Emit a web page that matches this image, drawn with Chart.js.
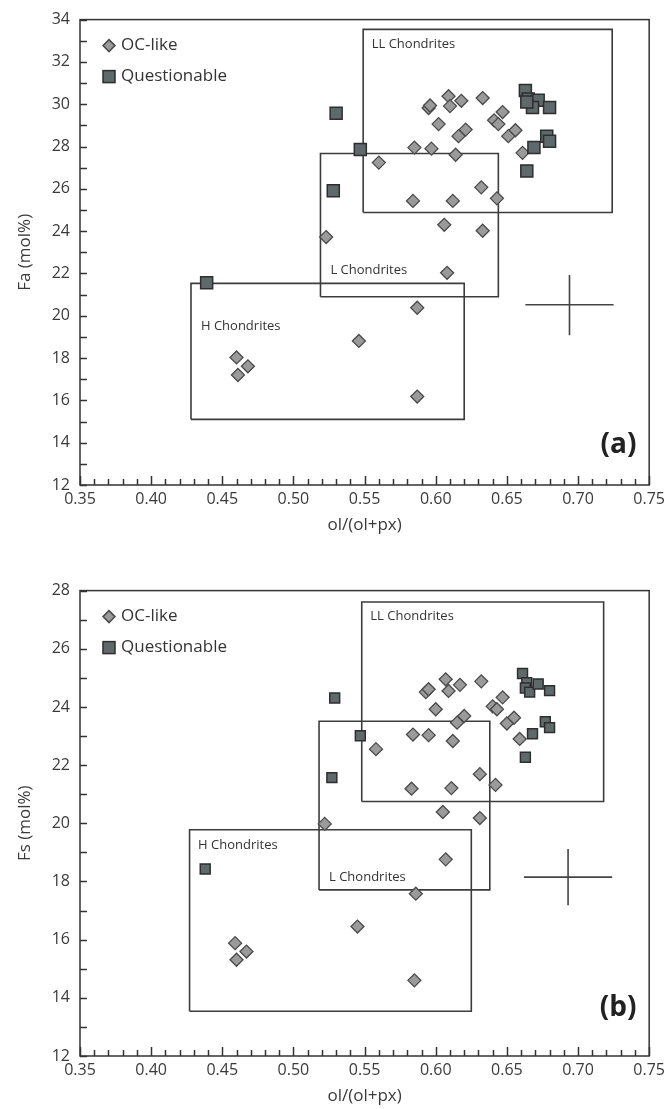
<!DOCTYPE html>
<html>
<head>
<meta charset="utf-8">
<script src="https://cdn.jsdelivr.net/npm/chart.js@4.4.0/dist/chart.umd.min.js"></script>
<style>
  html, body { margin: 0; padding: 0; background: #fff; }
  .panel { position: absolute; left: 0; width: 670px; height: 538px; }
  #panelA { top: 0; }
  #panelB { top: 571px; }
</style>
</head>
<body>
<div class="panel" id="panelA"><canvas id="chartA"></canvas></div>
<div class="panel" id="panelB"><canvas id="chartB"></canvas></div>
<script>
// ---- data: olivine Fa (panel a) ----
const ocFaX = [0.595, 0.596, 0.609, 0.610, 0.618, 0.633, 0.602, 0.621, 0.616, 0.641, 0.647, 0.644, 0.656, 0.651, 0.661, 0.585, 0.597, 0.614, 0.560, 0.632, 0.643, 0.584, 0.612, 0.523, 0.606, 0.633, 0.608, 0.587, 0.546, 0.460, 0.468, 0.461, 0.587];
const ocFaY = [29.82, 29.94, 30.38, 29.91, 30.16, 30.29, 29.06, 28.80, 28.49, 29.24, 29.63, 29.06, 28.77, 28.49, 27.70, 27.95, 27.90, 27.61, 27.24, 26.07, 25.55, 25.43, 25.43, 23.72, 24.30, 24.02, 22.03, 20.38, 18.81, 18.03, 17.61, 17.20, 16.18];
const qFaX = [0.530, 0.547, 0.528, 0.663, 0.665, 0.672, 0.668, 0.664, 0.680, 0.678, 0.680, 0.669, 0.664, 0.439];
const qFaY = [29.57, 27.86, 25.91, 30.65, 30.25, 30.19, 29.85, 30.10, 29.85, 28.49, 28.25, 27.95, 26.84, 21.56];

// ---- data: pyroxene Fs (panel b) ----
const ocFsX = [0.593, 0.595, 0.607, 0.609, 0.617, 0.632, 0.600, 0.620, 0.615, 0.640, 0.647, 0.643, 0.655, 0.650, 0.659, 0.584, 0.595, 0.612, 0.558, 0.631, 0.642, 0.583, 0.611, 0.605, 0.631, 0.522, 0.607, 0.586, 0.545, 0.459, 0.467, 0.460, 0.585];
const ocFsY = [24.51, 24.61, 24.95, 24.55, 24.76, 24.88, 23.92, 23.69, 23.46, 24.02, 24.33, 23.92, 23.63, 23.43, 22.90, 23.05, 23.03, 22.83, 22.55, 21.69, 21.32, 21.19, 21.21, 20.39, 20.18, 19.98, 18.76, 17.58, 16.45, 15.88, 15.59, 15.31, 14.60];
const qFsX = [0.529, 0.547, 0.527, 0.661, 0.664, 0.663, 0.666, 0.672, 0.680, 0.677, 0.680, 0.668, 0.663, 0.438];
const qFsY = [24.31, 23.01, 21.57, 25.15, 24.83, 24.65, 24.51, 24.79, 24.56, 23.49, 23.29, 23.08, 22.27, 18.43];

// chondrite group fields: H, L, LL
const groupNames = ['H Chondrites', 'L Chondrites', 'LL Chondrites'];
const faBoxXmin = [0.428, 0.519, 0.549];
const faBoxXmax = [0.620, 0.644, 0.724];
const faBoxYmin = [15.10, 20.90, 24.88];
const faBoxYmax = [21.53, 27.67, 33.54];
const faNameX = [0.435, 0.526, 0.555];
const faNameY = [19.52, 22.15, 32.84];

const fsBoxXmin = [0.427, 0.518, 0.548];
const fsBoxXmax = [0.625, 0.638, 0.718];
const fsBoxYmin = [13.54, 17.71, 20.75];
const fsBoxYmax = [19.78, 23.51, 27.61];
const fsNameX = [0.433, 0.525, 0.554];
const fsNameY = [19.25, 18.13, 27.13];

// typical error bars (low, centre, high)
const faErrX = [0.663, 0.694, 0.725];
const faErrY = [19.08, 20.52, 21.93];
const fsErrX = [0.662, 0.693, 0.724];
const fsErrY = [17.18, 18.15, 19.12];

// axis tick values (minor every 0.01 / 1, labelled every 0.05 / 2)
const xMin = 0.35, xMax = 0.75;
const xTickValues = [];
for (let k = 35; k <= 75; k++) xTickValues.push(k / 100);

Chart.defaults.font.family = '"Open Sans", "Noto Sans", sans-serif';
Chart.defaults.color = '#3a3a3a';

const diamondFill = '#9a9a9a', diamondLine = '#4a4a4a';
const squareFill = '#5e6969', squareLine = '#2e2e2e';

function toPoints(xs, ys) {
    return xs.map((x, i) => ({ x: x, y: ys[i] }));
}

function boxDataset(x0, x1, y0, y1) {
    return {
        type: 'line',
        data: [{ x: x0, y: y0 }, { x: x1, y: y0 }, { x: x1, y: y1 }, { x: x0, y: y1 }, { x: x0, y: y0 }],
        showLine: true, fill: false, pointRadius: 0, borderColor: '#3c3c3c', borderWidth: 1.6, tension: 0
    };
}

function lineDataset(pts) {
    return {
        type: 'line', data: pts, showLine: true, fill: false, pointRadius: 0,
        borderColor: '#444', borderWidth: 1.6, tension: 0
    };
}

// frame, inward ticks, group names, legend and panel letter
const decorPlugin = {
    id: 'decor',
    afterDraw(chart, args, opts) {
        const ctx = chart.ctx;
        const a = chart.chartArea;
        const x = chart.scales.x, y = chart.scales.y;
        ctx.save();

        // group names
        ctx.fillStyle = '#333';
        ctx.font = '13px "Open Sans", sans-serif';
        ctx.textAlign = 'left';
        ctx.textBaseline = 'middle';
        opts.names.forEach((n, i) => {
            ctx.fillText(n, x.getPixelForValue(opts.nameX[i]), y.getPixelForValue(opts.nameY[i]));
        });

        // frame
        ctx.strokeStyle = '#333';
        ctx.lineWidth = 1.5;
        ctx.strokeRect(a.left, a.top, a.right - a.left, a.bottom - a.top);

        // inward tick marks
        ctx.lineWidth = 1.5;
        ctx.strokeStyle = '#333';
        xTickValues.forEach(v => {
            const px = Math.round(x.getPixelForValue(v)) + 0.5;
            const major = Math.round(v * 100) % 5 === 0;
            ctx.beginPath();
            ctx.moveTo(px, a.bottom);
            ctx.lineTo(px, a.bottom - (major ? 9 : 6));
            ctx.stroke();
        });
        for (let v = y.min; v <= y.max; v++) {
            const py = Math.round(y.getPixelForValue(v)) + 0.5;
            ctx.beginPath();
            ctx.moveTo(a.left, py);
            ctx.lineTo(a.left + 7, py);
            ctx.stroke();
        }

        // legend
        const lx = a.left + 29;
        const ly1 = a.top + 26, ly2 = a.top + 57;
        ctx.lineWidth = 1.5;
        ctx.fillStyle = diamondFill;
        ctx.strokeStyle = diamondLine;
        ctx.beginPath();
        ctx.moveTo(lx - 6, ly1); ctx.lineTo(lx, ly1 - 6); ctx.lineTo(lx + 6, ly1); ctx.lineTo(lx, ly1 + 6);
        ctx.closePath();
        ctx.fill(); ctx.stroke();
        ctx.fillStyle = squareFill;
        ctx.strokeStyle = squareLine;
        ctx.fillRect(lx - 6, ly2 - 6, 12, 12);
        ctx.strokeRect(lx - 6, ly2 - 6, 12, 12);
        ctx.fillStyle = '#333';
        ctx.font = '17px "Open Sans", sans-serif';
        ctx.fillText('OC-like', lx + 12, ly1);
        ctx.fillText('Questionable', lx + 12, ly2);

        // panel letter
        ctx.font = 'bold 28px "Open Sans", sans-serif';
        ctx.textAlign = 'right';
        ctx.fillStyle = '#222';
        ctx.fillText(opts.panel, x.getPixelForValue(opts.panelX), y.getPixelForValue(opts.panelY));

        ctx.restore();
    }
};

function makeChart(id, cfg) {
    const datasets = [
        {
            label: 'Questionable', data: toPoints(cfg.qX, cfg.qY), pointStyle: 'rect',
            pointRadius: cfg.sqRadius, backgroundColor: squareFill, borderColor: squareLine, borderWidth: 1.5
        },
        {
            label: 'OC-like', data: toPoints(cfg.ocX, cfg.ocY), pointStyle: 'rectRot',
            pointRadius: 6.5, backgroundColor: diamondFill, borderColor: diamondLine, borderWidth: 1.3
        }
    ];
    for (let i = 0; i < 3; i++) {
        datasets.push(boxDataset(cfg.bx0[i], cfg.bx1[i], cfg.by0[i], cfg.by1[i]));
    }
    datasets.push(lineDataset([{ x: cfg.errX[0], y: cfg.errY[1] }, { x: cfg.errX[2], y: cfg.errY[1] }]));
    datasets.push(lineDataset([{ x: cfg.errX[1], y: cfg.errY[0] }, { x: cfg.errX[1], y: cfg.errY[2] }]));

    return new Chart(document.getElementById(id), {
        type: 'scatter',
        data: { datasets: datasets },
        plugins: [decorPlugin],
        options: {
            responsive: true,
            maintainAspectRatio: false,
            animation: false,
            events: [],
            layout: { padding: { left: 0, right: 20, top: 17, bottom: 0 } },
            plugins: {
                legend: { display: false },
                tooltip: { enabled: false },
                decor: {
                    names: groupNames, nameX: cfg.nameX, nameY: cfg.nameY,
                    panel: cfg.panel, panelX: 0.741, panelY: cfg.panelY
                }
            },
            scales: {
                x: {
                    type: 'linear', min: xMin, max: xMax,
                    grid: { display: false, drawTicks: false },
                    border: { display: false },
                    ticks: {
                        stepSize: 0.05, autoSkip: false, maxRotation: 0, padding: 5,
                        font: { size: 16 }, color: '#3a3a3a',
                        callback: v => v.toFixed(2)
                    },
                    title: { display: true, text: 'ol/(ol+px)', font: { size: 17 }, color: '#3a3a3a', padding: { top: 0, bottom: 3 } },
                    afterFit: s => { s.height = 53; }
                },
                y: {
                    type: 'linear', min: cfg.yMin, max: cfg.yMax,
                    grid: { display: false, drawTicks: false },
                    border: { display: false },
                    ticks: {
                        stepSize: 2, autoSkip: false, padding: 10,
                        font: { size: 16 }, color: '#3a3a3a'
                    },
                    title: { display: true, text: cfg.yTitle, font: { size: 17 }, color: '#3a3a3a', padding: { top: 15, bottom: 0 } },
                    afterFit: s => { s.width = 80; }
                }
            }
        }
    });
}

makeChart('chartA', {
    ocX: ocFaX, ocY: ocFaY, qX: qFaX, qY: qFaY, sqRadius: 8.5,
    bx0: faBoxXmin, bx1: faBoxXmax, by0: faBoxYmin, by1: faBoxYmax,
    nameX: faNameX, nameY: faNameY, errX: faErrX, errY: faErrY,
    yMin: 12, yMax: 34, yTitle: 'Fa (mol%)', panel: '(a)', panelY: 13.88
});

makeChart('chartB', {
    ocX: ocFsX, ocY: ocFsY, qX: qFsX, qY: qFsY, sqRadius: 7,
    bx0: fsBoxXmin, bx1: fsBoxXmax, by0: fsBoxYmin, by1: fsBoxYmax,
    nameX: fsNameX, nameY: fsNameY, errX: fsErrX, errY: fsErrY,
    yMin: 12, yMax: 28, yTitle: 'Fs (mol%)', panel: '(b)', panelY: 13.64
});
</script>
</body>
</html>
